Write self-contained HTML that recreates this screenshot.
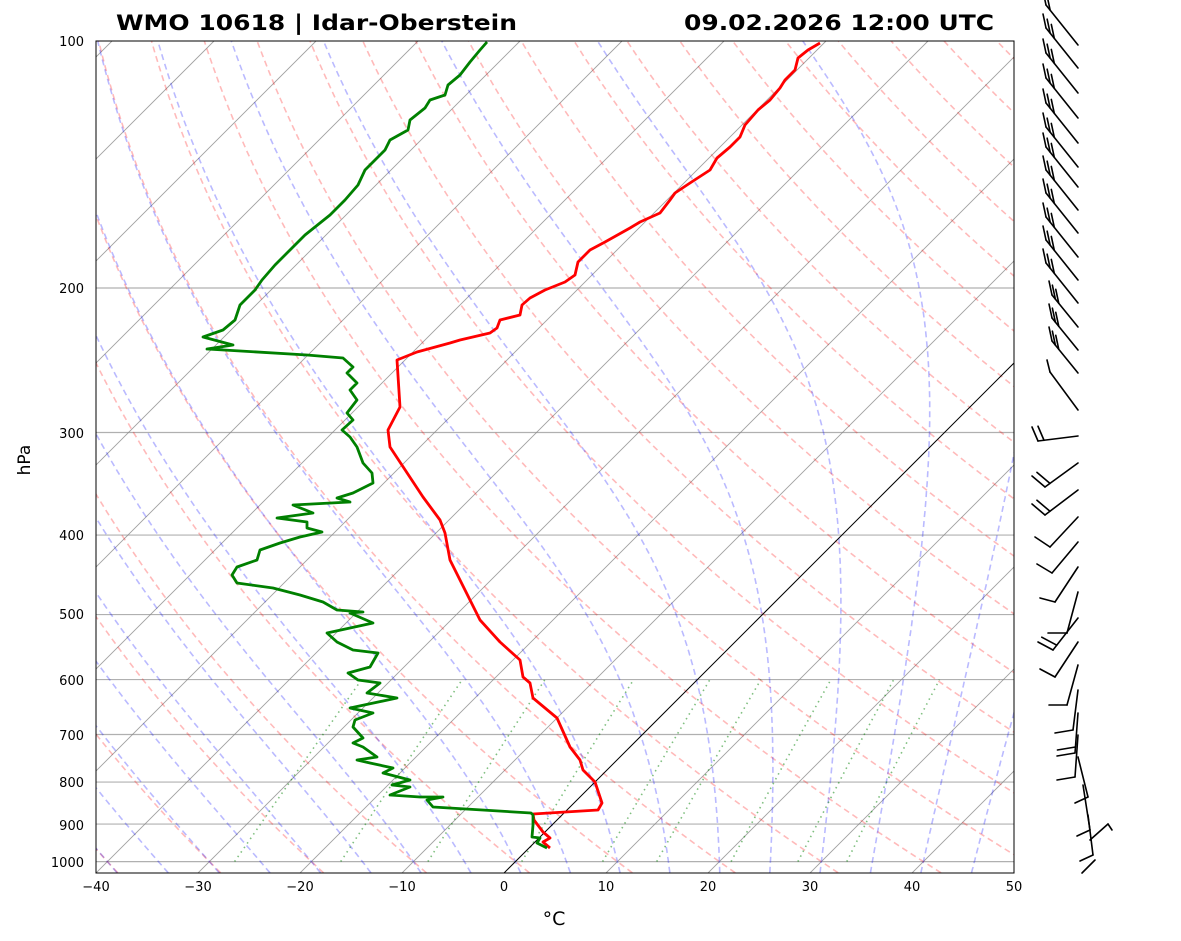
<!DOCTYPE html>
<html><head><meta charset="utf-8">
<style>
html,body{margin:0;padding:0;background:#fff;}
svg{display:block;font-family:"DejaVu Sans","Liberation Sans",sans-serif;}
</style></head>
<body>
<svg id="s" width="1181" height="941" viewBox="0 0 1181 941" xmlns="http://www.w3.org/2000/svg">
<defs><clipPath id="c"><rect x="96" y="41" width="918" height="832"/></clipPath></defs>
<g id="plot" clip-path="url(#c)"></g>
<g id="data" clip-path="url(#c)"></g>
<g id="barbs" stroke="#000" stroke-width="1.6" fill="none" stroke-linecap="round"></g>
<rect x="96" y="41" width="918" height="832" fill="none" stroke="#000" stroke-width="1"/>
<text x="116" y="30" font-size="21" font-weight="bold" textLength="401" lengthAdjust="spacingAndGlyphs">WMO 10618 | Idar-Oberstein</text>
<text x="684" y="30" font-size="21" font-weight="bold" textLength="310" lengthAdjust="spacingAndGlyphs">09.02.2026 12:00 UTC</text>
<g font-size="13" text-anchor="end">
<text x="84" y="46">100</text><text x="84" y="293">200</text><text x="84" y="438">300</text>
<text x="84" y="540">400</text><text x="84" y="619">500</text><text x="84" y="685">600</text>
<text x="84" y="740">700</text><text x="84" y="787">800</text><text x="84" y="830">900</text>
<text x="84" y="867">1000</text>
</g>
<g font-size="13" text-anchor="middle">
<text x="96" y="891">−40</text><text x="198" y="891">−30</text><text x="300" y="891">−20</text>
<text x="402" y="891">−10</text><text x="504" y="891">0</text><text x="606" y="891">10</text>
<text x="708" y="891">20</text><text x="810" y="891">30</text><text x="912" y="891">40</text>
<text x="1014" y="891">50</text>
</g>
<text x="554" y="925" font-size="19" text-anchor="middle">°C</text>
<text transform="translate(30,460) rotate(-90)" font-size="17" text-anchor="middle">hPa</text>
</svg>
<script>
(function(){
var NS="http://www.w3.org/2000/svg";
function Y(p){return 41+820.6*Math.log10(p/100);}
function X(T,p){return 504+10.2*T+(873-Y(p));}
var plot=document.getElementById('plot');
function path(g,d,attrs){var e=document.createElementNS(NS,'path');e.setAttribute('d',d);e.setAttribute('fill','none');for(var k in attrs)e.setAttribute(k,attrs[k]);g.appendChild(e);}
function curve(fn,p0,p1,n){var d='';for(var i=0;i<=n;i++){var p=p0*Math.pow(p1/p0,i/n);var T=fn(p);d+=(i?'L':'M')+X(T,p).toFixed(1)+','+Y(p).toFixed(1);}return d;}
var ptop=100,pbot=1032;
[200,300,400,500,600,700,800,900,1000].forEach(function(p){path(plot,'M96,'+Y(p)+'L1014,'+Y(p),{stroke:'#b0b0b0','stroke-width':1.2});});
for(var T=-160;T<=50;T+=10){if(T==0)continue;path(plot,'M'+X(T,pbot)+','+Y(pbot)+'L'+X(T,ptop)+','+Y(ptop),{stroke:'#888','stroke-width':0.9,'stroke-opacity':0.8});}
for(var t0=-40;t0<=200;t0+=10){(function(t0){var th=t0+273.15;path(plot,curve(function(p){return th*Math.pow(p/1000,0.2857)-273.15;},pbot,ptop,60),{stroke:'#ff0000','stroke-opacity':0.27,'stroke-width':1.6,'stroke-dasharray':'6,4'});})(t0);}
var Rd=287.04,Cp=1005.7,Lv=2.501e6,eps=0.622;
function es(T){return 6.112*Math.exp(17.67*T/(T+243.5));}
function dTdp(p,T){var Tk=T+273.15;var e=es(T);var rs=eps*e/(p-e);return (Rd*Tk+Lv*rs)/(p*(Cp+Lv*Lv*rs*eps/(Rd*Tk*Tk)));}
function integ(T0,p0,p1,n){var pts=[];var T=T0,p=p0,h=(p1-p0)/n;pts.push([p,T]);for(var i=0;i<n;i++){var k1=dTdp(p,T),k2=dTdp(p+h/2,T+h/2*k1),k3=dTdp(p+h/2,T+h/2*k2),k4=dTdp(p+h,T+h*k3);T+=h/6*(k1+2*k2+2*k3+k4);p+=h;pts.push([p,T]);}return pts;}
var m0=[];for(var t=-50;t<=45;t+=5)m0.push(t);
m0.forEach(function(t0){var up=integ(t0,1000,100,180),dn=integ(t0,1000,1032,8);var pts=dn.reverse().concat(up.slice(1));var d='';pts.forEach(function(q,i){d+=(i?'L':'M')+X(q[1],q[0]).toFixed(1)+','+Y(q[0]).toFixed(1);});path(plot,d,{stroke:'#0000ff','stroke-opacity':0.27,'stroke-width':1.6,'stroke-dasharray':'6,4'});});
[0.0004,0.001,0.002,0.004,0.007,0.01,0.016,0.024,0.032].forEach(function(w){path(plot,curve(function(p){var e=p*w/(eps+w);var l=Math.log(e/6.112);return 243.5*l/(17.67-l);},1000,600,20),{stroke:'#008000','stroke-opacity':0.5,'stroke-width':1.6,'stroke-dasharray':'1.5,4'});});
path(plot,'M'+X(0,pbot)+','+Y(pbot)+'L'+X(0,ptop)+','+Y(ptop),{stroke:'#000','stroke-width':1});
var data=document.getElementById('data');
function pl(pts,col){var d='';for(var i=0;i<pts.length;i+=2)d+=(i?'L':'M')+pts[i]+','+pts[i+1];path(data,d,{stroke:col,'stroke-width':2.8,'stroke-linejoin':'round'});}
pl([550,848,543,842,550,838,543,832,534,820,533,814,598,810,602,803,600,797,595,782,583,770,580,760,570,747,557,718,533,698,530,683,523,677,520,660,500,642,480,620,470,600,455,570,450,560,445,533,440,520,423,497,390,447,388,430,400,407,397,360,417,352,450,343,460,340,490,333,497,328,500,320,520,315,522,305,530,298,545,290,565,282,575,275,578,262,590,250,605,242,630,228,640,222,660,213,670,200,675,193,690,183,710,170,717,158,730,147,740,137,745,125,758,110,770,100,780,88,785,80,795,70,798,58,808,50,820,43],'#ff0000');
pl([547,848,537,843,540,838,532,837,533,825,533,815,531,813,433,807,427,800,443,797,420,797,390,795,410,787,392,785,410,780,383,773,393,768,370,763,357,760,377,757,363,747,353,743,363,738,353,727,355,720,373,713,350,708,397,698,367,693,380,683,358,680,348,673,370,667,378,653,353,650,337,642,327,633,373,623,350,613,363,612,337,610,323,602,300,595,273,588,237,583,232,575,237,567,257,560,260,550,280,543,300,537,322,532,307,528,307,522,277,518,313,513,293,505,350,502,337,498,353,493,373,483,372,473,363,463,357,447,350,437,342,430,353,420,347,413,357,400,350,390,357,383,347,373,353,367,343,358,307,355,207,349,233,345,203,337,223,330,235,320,240,305,255,290,262,280,275,265,290,250,305,235,330,215,345,200,358,185,365,170,375,160,385,150,390,140,408,130,410,120,425,108,430,100,445,95,448,85,460,75,470,62,480,50,487,42],'#008000');
var bg=document.getElementById('barbs');
function line(a,b,c,d){path(bg,'M'+a+','+b+'L'+c+','+d,{});}
var ups=[45,68,93,118,143,167,187,210,233,257,280,303,327,350,373];
ups.forEach(function(yb,i){var bx=1078,tx=1046,ty=yb-40;if(i>=12){tx=1052;ty=yb-32;}line(bx,yb,tx,ty);var n=(i==0)?2:3;for(var k=0;k<n;k++){var f=k*0.13;var sx=tx+(bx-tx)*f,sy=ty+(yb-ty)*f;line(sx,sy,sx-3,sy-14);}});
line(1078,410,1050,372);line(1050,372,1047,360);
var lows=[[1078,436,1038,441,2,-6,-14],[1078,463,1045,487,2,-13,-11],[1078,490,1045,515,2,-13,-11],[1078,517,1050,547,1,-15,-10],[1078,542,1052,573,1,-15,-9],[1078,567,1055,602,1,-15,-4],[1078,592,1067,633,1,-19,0],[1078,618,1053,650,2,-15,-8],[1078,642,1055,677,1,-15,-8],[1078,665,1067,705,1,-18,0],[1078,690,1073,730,1,-18,3],[1078,713,1075,753,2,-18,3],[1078,735,1075,777,1,-18,3],[1078,757,1088,797,1,-13,6],[1083,785,1090,830,1,-13,6],[1088,815,1093,855,1,-13,6]];
lows.forEach(function(b){line(b[0],b[1],b[2],b[3]);for(var k=0;k<b[4];k++){var f=k*0.15;var sx=b[2]+(b[0]-b[2])*f,sy=b[3]+(b[1]-b[3])*f;line(sx,sy,sx+b[5],sy+b[6]);}});
line(1090,840,1108,824);line(1108,824,1112,830);line(1095,860,1082,873);
})();
</script>
</body></html>
